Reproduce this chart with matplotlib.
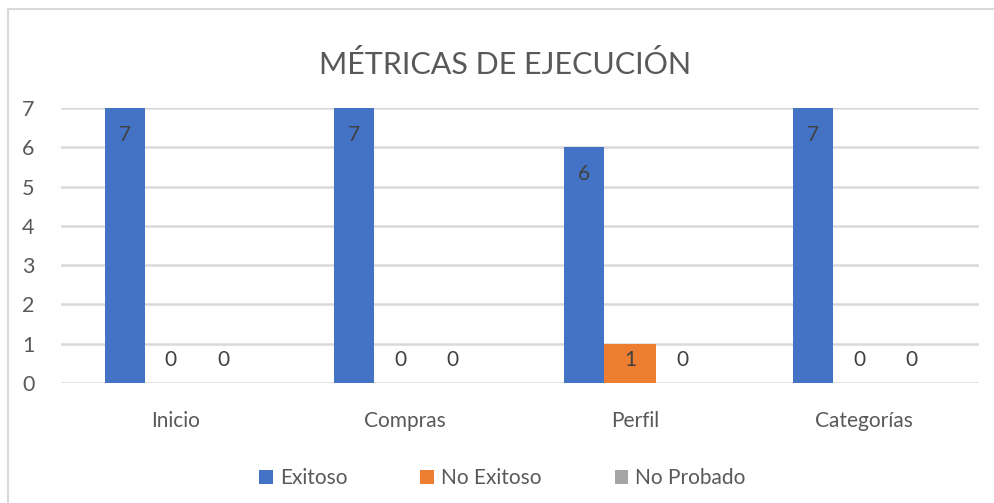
import matplotlib
matplotlib.use("Agg")
import numpy as np
import matplotlib.pyplot as plt
from matplotlib.patches import Rectangle

# -------- Data --------
categories = ["Inicio", "Compras", "Perfil", "Categorías"]
exitoso = [7, 7, 6, 7]
no_exitoso = [0, 0, 1, 0]
no_probado = [0, 0, 0, 0]
series_names = ["Exitoso", "No Exitoso", "No Probado"]
y_ticks = [0, 1, 2, 3, 4, 5, 6, 7]

# -------- Style --------
colors = ["#4472C4", "#ED7D31", "#A5A5A5"]
text_color = "#595959"
label_color = "#404040"
grid_color = "#D9D9D9"
plt.rcParams["font.family"] = ["Lato", "DejaVu Sans"]

# bar left edges / widths relative to each category centre
bar_left = [-0.310, -0.135, 0.092]
bar_width = [0.175, 0.227, 0.227]

fig = plt.figure(figsize=(9.94, 5.03), dpi=100)
ax = fig.add_axes([0.0614, 0.2386, 0.9236, 0.5467])

x = np.arange(len(categories))
for i, values in enumerate([exitoso, no_exitoso, no_probado]):
    left = x + bar_left[i]
    ax.bar(left, values, width=bar_width[i], align="edge",
           color=colors[i], label=series_names[i], zorder=3)
    for xl, v in zip(left, values):
        ly = max(v - 0.69, 0.585)
        ax.text(xl + bar_width[i] / 2, ly, str(v), ha="center", va="center",
                fontsize=15, color=label_color, zorder=4)

ax.set_xlim(-0.5, len(categories) - 0.5)
ax.set_ylim(0, 7)
ax.set_yticks(y_ticks)
ax.set_xticks(x)
ax.set_xticklabels(categories)
ax.yaxis.grid(True, color=grid_color, linewidth=1.8, zorder=0)
ax.set_axisbelow(True)
for side in ["top", "right", "left", "bottom"]:
    ax.spines[side].set_visible(False)
ax.tick_params(axis="y", length=0, pad=19, labelsize=15.5, labelcolor=text_color)
ax.tick_params(axis="x", length=0, pad=20, labelsize=15, labelcolor=text_color)

fig.text(0.5085, 1 - 64 / 503, "MÉTRICAS DE EJECUCIÓN", ha="center", va="center",
         fontsize=22, color=text_color)

fig.legend(loc="center", bbox_to_anchor=(0.5055, 1 - 478 / 503), ncol=3,
           frameon=False, fontsize=15, labelcolor=text_color,
           handlelength=0.65, handleheight=0.65, handletextpad=0.35,
           columnspacing=3.5)

# light chart border
fig.patches.append(Rectangle((8 / 994, -0.1), 1.2, 1 - 8.5 / 503 + 0.1,
                             transform=fig.transFigure, fill=False,
                             edgecolor=grid_color, linewidth=1.5))

fig.savefig("out.png", dpi=100)
